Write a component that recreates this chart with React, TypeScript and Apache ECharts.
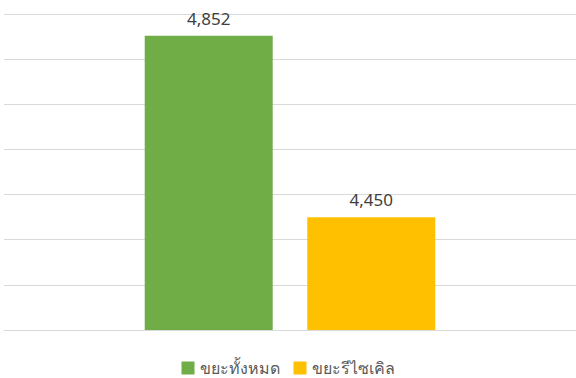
import React, { useEffect, useRef } from "react";
import * as echarts from "echarts";

const categories = [""];
const seriesNames = ["ขยะทั้งหมด", "ขยะรีไซเคิล"];
const totalWaste = [4852];
const recycledWaste = [4450];
const colors = ["#70AD47", "#FFC000"];

export default function App() {
  const ref = useRef<HTMLDivElement>(null);
  useEffect(() => {
    if (!ref.current) return;
    const chart = echarts.init(ref.current, null, { renderer: "svg" });
    const fmt = (p: any) => Number(p.value).toLocaleString("en-US");
    const label = {
      show: true,
      position: "top",
      distance: 9,
      color: "#404040",
      fontSize: 17,
      fontFamily: "Noto Sans, sans-serif",
      formatter: fmt,
    };
    chart.setOption({
      animation: false,
      backgroundColor: "#ffffff",
      grid: { left: 4, right: 0, top: 14, bottom: 48, containLabel: false },
      legend: {
        top: 355,
        left: "center",
        itemWidth: 13,
        itemHeight: 13,
        itemGap: 14,
        icon: "rect",
        textStyle: { color: "#595959", fontSize: 16, fontFamily: "Noto Sans, sans-serif" },
        data: seriesNames,
      },
      xAxis: {
        type: "category",
        data: categories,
        axisLine: { show: true, lineStyle: { color: "#d9d9d9", width: 1 } },
        axisTick: { show: false },
        axisLabel: { show: false },
      },
      yAxis: {
        type: "value",
        min: 4200,
        max: 4900,
        interval: 100,
        axisLabel: { show: false },
        axisLine: { show: false },
        axisTick: { show: false },
        splitLine: { lineStyle: { color: "#d9d9d9", width: 1 } },
      },
      series: [
        {
          name: seriesNames[0],
          type: "bar",
          data: totalWaste,
          barWidth: 128,
          barGap: "27%",
          itemStyle: { color: colors[0] },
          label,
        },
        {
          name: seriesNames[1],
          type: "bar",
          data: recycledWaste,
          barWidth: 128,
          barGap: "27%",
          itemStyle: { color: colors[1] },
          label,
        },
      ],
    });
    return () => chart.dispose();
  }, []);
  return <div ref={ref} style={{ width: 576, height: 378, position: "fixed", left: 0, top: 0 }} />;
}
